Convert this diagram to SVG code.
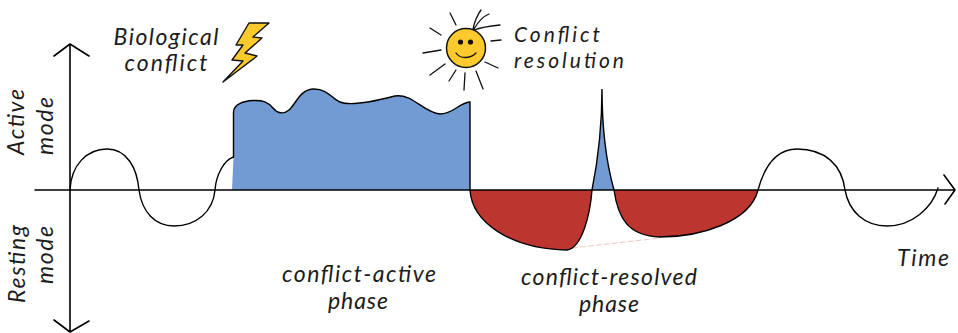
<svg xmlns="http://www.w3.org/2000/svg" width="958" height="333" viewBox="0 0 958 333">
<style>
.t{font-family:"Lato","Open Sans","Liberation Sans",sans-serif;font-style:italic;font-size:23px;fill:#1c1c1c}
.s{font-size:21px}
.m{text-anchor:middle}
.l{fill:none;stroke:#000;stroke-width:1.6;stroke-linecap:round;stroke-linejoin:round}
.c{fill:none;stroke:#000;stroke-width:1.4;stroke-linecap:round}
.r{fill:none;stroke:#111;stroke-width:1.3;stroke-linecap:round}
</style>
<rect width="958" height="333" fill="#fff"/>
<g id="phases">
<path id="active-fill" d="M232 190L233.500 157V112C234 104 244 101 253 100.500C263 100 268 102 273 108C277 113 283 115 289 110C296 104 300 89 314 89C328 89 332 99 340 102C350 106 372 102 395 96C412 93 424 113 440 114C454 114 458 103 470 102V190Z" fill="#739bd3"/>
<path id="resolved-1" d="M470 190C472 222 510 249 567 250C582 248 590 215 592 190Z" fill="#bc352e"/>
<path id="spike" d="M592 190C598 160 602 130 602 89C602 130 607 165 614 190Z" fill="#739bd3"/>
<path id="resolved-2" d="M614 190C618 218 628 236 660 237C700 237 750 222 758 190Z" fill="#bc352e"/>
<path id="faint" d="M572 248L660 238" stroke="#f2c8c8" stroke-width="1" stroke-dasharray="6 2" fill="none"/>
</g>
<g id="connectors">
<path class="l" d="M35 190H955M944 175L955 190L945 204"/>
<path class="l" d="M70 44V332M54 56L70 44L89 56M54 320L70 332L89 321"/>
<path class="c" d="M70 190C71 165 87 149 107 149C127 149 137 168 139 190C142 212 155 226 174 226C196 226 213 212 215 190C216 175 224 160 233.500 157"/>
<path class="c" d="M233.500 157V112C234 104 244 101 253 100.500C263 100 268 102 273 108C277 113 283 115 289 110C296 104 300 89 314 89C328 89 332 99 340 102C350 106 372 102 395 96C412 93 424 113 440 114C454 114 458 103 470 102V190C472 222 510 249 567 250C582 248 590 215 592 190C598 160 602 130 602 89C602 130 607 165 614 190C618 218 628 236 660 237C700 237 750 222 758 190C764 168 775 149 797 149C825 149 842 165 845 190C849 212 865 226 887 226C912 226 932 208 938 188"/>
</g>
<g id="bolt"><path d="M249 23H269L253 37L262 38L245 53L257 56L223 82L243 61L232 60L243 45H236Z" fill="#fdca2e" stroke="#111" stroke-width="1.400" stroke-linejoin="round"/></g>
<g id="sun">
<circle cx="466" cy="48" r="19.500" fill="#fdca2e" stroke="#111" stroke-width="1.500"/>
<circle cx="460.500" cy="42" r="2.600" fill="#111"/><circle cx="470.500" cy="42" r="2.600" fill="#111"/>
<path class="r" d="M456 53C460 59 470 59 476 53"/>
<path class="r" d="M450 13L456 25M430 28L441 35M423 53L441 50M430 75L445 64M449 81L456 70M464 90L465 73M483 89L476 71M498 68L485 62M491 41L501 40M473 29C475 20 478 14 481 10M474 29C478 22 484 16 489 14M474 30C482 27 490 26 500 25"/>
</g>
<g id="labels">
<text class="t m" x="166" y="45" textLength="105" lengthAdjust="spacing">Biological</text>
<text class="t m" x="166" y="71" textLength="83" lengthAdjust="spacing">conflict</text>
<text class="t s" x="514" y="42" textLength="86" lengthAdjust="spacing">Conflict</text>
<text class="t s" x="514" y="68" textLength="110" lengthAdjust="spacing">resolution</text>
<text class="t m" x="359" y="282" textLength="154" lengthAdjust="spacing">conflict-active</text>
<text class="t m" x="358" y="309" textLength="60" lengthAdjust="spacing">phase</text>
<text class="t m" x="609" y="285" textLength="176" lengthAdjust="spacing">conflict-resolved</text>
<text class="t m" x="609" y="312" textLength="60" lengthAdjust="spacing">phase</text>
<text class="t" x="897" y="266" textLength="52" lengthAdjust="spacing">Time</text>
<text class="t m" transform="translate(24 122) rotate(-90)" textLength="66" lengthAdjust="spacing">Active</text>
<text class="t m" transform="translate(53 126) rotate(-90)" textLength="58" lengthAdjust="spacing">mode</text>
<text class="t m" transform="translate(25 264) rotate(-90)" textLength="78" lengthAdjust="spacing">Resting</text>
<text class="t m" transform="translate(53 255) rotate(-90)" textLength="58" lengthAdjust="spacing">mode</text>
</g>
</svg>
